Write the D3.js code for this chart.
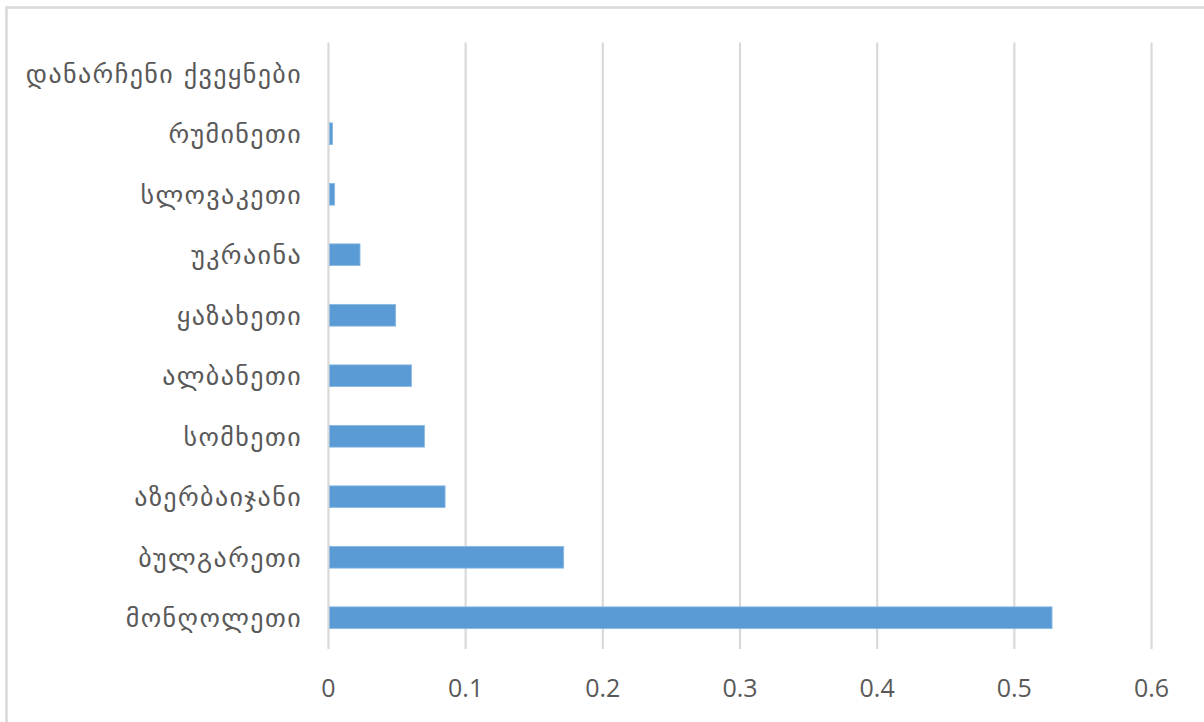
<!DOCTYPE html>
<html>
<head>
<meta charset="utf-8">
<script src="https://cdn.jsdelivr.net/npm/d3@7"></script>
<style>
  html, body { margin: 0; padding: 0; background: #fff; }
  svg { display: block; }
</style>
</head>
<body>
<svg id="chart" width="1204" height="722"></svg>
<script>
// Countries, listed top to bottom
const countries = [
  "დანარჩენი ქვეყნები",
  "რუმინეთი",
  "სლოვაკეთი",
  "უკრაინა",
  "ყაზახეთი",
  "ალბანეთი",
  "სომხეთი",
  "აზერბაიჯანი",
  "ბულგარეთი",
  "მონღოლეთი"
];
const shares = [0, 0.003, 0.0045, 0.023, 0.049, 0.0605, 0.07, 0.085, 0.1715, 0.5275];
const xTicks = [0, 0.1, 0.2, 0.3, 0.4, 0.5, 0.6];

const svg = d3.select("#chart");
const W = 1204, H = 722;

// outer chart frame (only top and left edges fall inside the view)
svg.append("rect")
  .attr("x", 6.5).attr("y", 7.5)
  .attr("width", W + 20).attr("height", H + 20)
  .attr("fill", "#fff")
  .attr("stroke", "#d9d9d9")
  .attr("stroke-width", 2.5);

const x = d3.scaleLinear().domain([0, 0.6]).range([328.5, 1151.5]);
const y = d3.scaleBand().domain(countries).range([43, 648])
  .paddingInner(0.64).paddingOuter(0.32);

// vertical gridlines
svg.append("g")
  .selectAll("line")
  .data(xTicks)
  .join("line")
  .attr("x1", d => x(d)).attr("x2", d => x(d))
  .attr("y1", 42.5).attr("y2", 649)
  .attr("stroke", "#d9d9d9")
  .attr("stroke-width", 2.2);

// bars
svg.append("g")
  .selectAll("rect")
  .data(countries.map((c, i) => ({ c, v: shares[i] })))
  .join("rect")
  .attr("x", x(0) + 1)
  .attr("y", d => y(d.c))
  .attr("width", d => Math.max(0, x(d.v) - x(0) - 1))
  .attr("height", y.bandwidth())
  .attr("fill", "#5b9bd5")
  .attr("stroke", d => d.v > 0 ? "#8dbbe5" : "none")
  .attr("stroke-width", 0.8);

// category labels
svg.append("g")
  .selectAll("text")
  .data(countries)
  .join("text")
  .attr("x", 302)
  .attr("y", d => y(d) + y.bandwidth() / 2)
  .attr("dy", "0.36em")
  .attr("text-anchor", "end")
  .attr("font-family", "'DejaVu Sans', sans-serif")
  .attr("font-size", 26)
  .attr("letter-spacing", 1.4)
  .attr("fill", "#595959")
  .text(d => d);

// value axis labels
svg.append("g")
  .selectAll("text")
  .data(xTicks)
  .join("text")
  .attr("x", d => x(d))
  .attr("y", 697)
  .attr("text-anchor", "middle")
  .attr("font-family", "'Open Sans', sans-serif")
  .attr("font-size", 25)
  .attr("fill", "#595959")
  .text(d => d3.format("")(d));
</script>
</body>
</html>
